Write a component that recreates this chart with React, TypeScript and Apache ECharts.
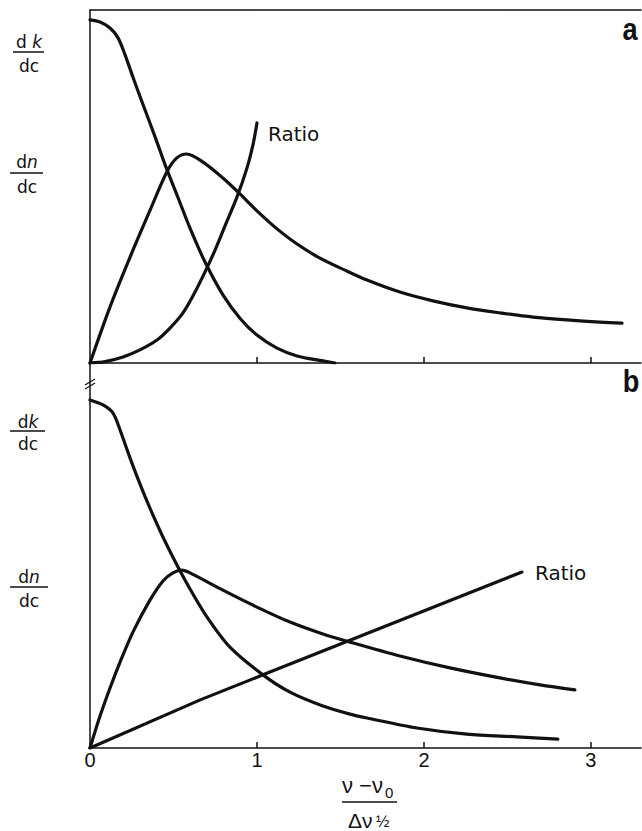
import React, { useEffect, useRef } from "react";
import * as echarts from "echarts";

// x = (ν - ν0)/Δν½ ; y in relative units (0..100 of each panel height)
const xTickValues = [1, 2, 3];
const xLabelValues = [0, 1, 2, 3];

// Panel a
const dkA: [number, number][] = [
  [0, 97.2], [0.06, 96.6], [0.12, 94.9], [0.168, 92.1], [0.21, 87.3], [0.257, 81.0],
  [0.305, 74.8], [0.359, 68.0], [0.407, 61.8], [0.455, 55.5], [0.521, 47.6], [0.599, 38.2],
  [0.689, 28.6], [0.796, 19.3], [0.898, 12.7], [1.0, 7.9], [1.12, 4.2], [1.24, 2.0],
  [1.395, 0.6], [1.467, 0],
];
const dnA: [number, number][] = [
  [0, 0], [0.12, 15.9], [0.24, 30.0], [0.36, 43.3], [0.46, 54.1], [0.52, 58.1],
  [0.58, 59.2], [0.677, 56.9], [0.796, 52.4], [0.898, 47.9], [1.0, 43.1], [1.12, 38.0],
  [1.24, 33.7], [1.377, 29.7], [1.527, 26.3], [1.659, 23.5], [1.856, 20.1], [2.054, 17.6],
  [2.257, 15.6], [2.455, 14.2], [2.653, 13.0], [2.856, 12.2], [3.054, 11.6], [3.186, 11.3],
];
const ratioA: [number, number][] = [
  [0, 0], [0.09, 0.4], [0.198, 1.7], [0.299, 3.7], [0.401, 6.5], [0.479, 9.9],
  [0.557, 14.2], [0.629, 20.1], [0.689, 25.8], [0.749, 32.0], [0.808, 38.8],
  [0.88, 47.0], [0.94, 55.2], [0.976, 61.8], [1.0, 68.0],
];

// Panel b
const dkB: [number, number][] = [
  [0, 90.4], [0.078, 89.1], [0.138, 87.0], [0.18, 82.6], [0.24, 75.3], [0.299, 68.6],
  [0.359, 62.3], [0.437, 54.8], [0.527, 47.0], [0.599, 41.3], [0.701, 34.0], [0.838, 26.2],
  [1.036, 19.0], [1.198, 14.5], [1.395, 10.9], [1.557, 8.8], [1.659, 7.8], [1.958, 5.2],
  [2.257, 3.6], [2.557, 2.9], [2.802, 2.3],
];
const dnB: [number, number][] = [
  [0, 0], [0.06, 8.3], [0.12, 15.6], [0.18, 22.3], [0.257, 30.1], [0.359, 38.4],
  [0.437, 43.4], [0.497, 45.5], [0.551, 46.2], [0.599, 45.5], [0.796, 41.0], [1.0, 36.6],
  [1.198, 32.7], [1.395, 29.6], [1.557, 27.5], [1.856, 23.9], [2.156, 20.8], [2.455, 18.2],
  [2.695, 16.4], [2.904, 15.1],
];
const ratioB: [number, number][] = [
  [0, 0], [0.66, 12.5], [1.036, 19.0], [2.587, 45.7],
];

const FONT = "'Liberation Sans', Arial, sans-serif";
const LFONT = "'DejaVu Sans', sans-serif";
const BLACK = "#111";

function fracLabel(cx: number, top: string, topY: number, lineY: number, x1: number, x2: number, botY: number) {
  return [
    {
      type: "text",
      x: cx,
      y: topY,
      style: {
        text: top,
        rich: {
          i: { fontStyle: "italic", fontSize: 17, fontFamily: LFONT, fill: BLACK },
        },
        fontSize: 17,
        fontFamily: LFONT,
        fill: BLACK,
        textAlign: "center",
        textVerticalAlign: "middle",
      },
    },
    {
      type: "line",
      shape: { x1, y1: lineY, x2, y2: lineY },
      style: { stroke: BLACK, lineWidth: 1.5 },
    },
    {
      type: "text",
      x: cx,
      y: botY,
      style: {
        text: "dc",
        fontSize: 17,
        fontFamily: LFONT,
        fill: BLACK,
        textAlign: "center",
        textVerticalAlign: "middle",
      },
    },
  ];
}

export default function App() {
  const ref = useRef<HTMLDivElement>(null);
  useEffect(() => {
    if (!ref.current) return;
    const chart = echarts.init(ref.current, undefined, { renderer: "svg" });
    const axisLineStyle = { color: BLACK, width: 1.5 };
    const lineSeries = (data: [number, number][], idx: number, smooth: number) => ({
      type: "line",
      xAxisIndex: idx === 0 ? 0 : 2,
      yAxisIndex: idx,
      data,
      showSymbol: false,
      smooth,
      lineStyle: { color: BLACK, width: 3.2, cap: "round", join: "round" },
      silent: true,
    });
    const option: any = {
      animation: false,
      backgroundColor: "#fff",
      grid: [
        { left: 90, top: 10, width: 551, height: 353 },
        { left: 90, top: 363, width: 551, height: 385 },
      ],
      xAxis: [
        {
          gridIndex: 0, type: "value", min: 0, max: 3.3, position: "bottom",
          axisLine: { show: true, onZero: false, lineStyle: axisLineStyle },
          axisTick: { show: true, inside: true, length: 6, customValues: xTickValues, lineStyle: axisLineStyle },
          axisLabel: { show: false },
          splitLine: { show: false },
        },
        {
          gridIndex: 0, type: "value", min: 0, max: 3.3, position: "top",
          axisLine: { show: true, onZero: false, lineStyle: axisLineStyle },
          axisTick: { show: false },
          axisLabel: { show: false },
          splitLine: { show: false },
        },
        {
          gridIndex: 1, type: "value", min: 0, max: 3.3, position: "bottom",
          axisLine: { show: true, onZero: false, lineStyle: axisLineStyle },
          axisTick: { show: true, inside: true, length: 6, customValues: xTickValues, lineStyle: axisLineStyle },
          axisLabel: {
            show: true, customValues: xLabelValues, fontSize: 20, fontFamily: FONT,
            color: BLACK, margin: 2,
          },
          splitLine: { show: false },
        },
      ],
      yAxis: [
        {
          gridIndex: 0, type: "value", min: 0, max: 100,
          axisLine: { show: true, onZero: false, lineStyle: axisLineStyle },
          axisTick: { show: false }, axisLabel: { show: false }, splitLine: { show: false },
        },
        {
          gridIndex: 1, type: "value", min: 0, max: 100,
          axisLine: { show: true, onZero: false, lineStyle: axisLineStyle },
          axisTick: { show: false }, axisLabel: { show: false }, splitLine: { show: false },
        },
      ],
      series: [
        lineSeries(dkA, 0, 0.3),
        lineSeries(dnA, 0, 0.3),
        lineSeries(ratioA, 0, 0.3),
        lineSeries(dkB, 1, 0.3),
        lineSeries(dnB, 1, 0.3),
        lineSeries(ratioB, 1, 0),
      ],
      graphic: [
        ...fracLabel(29, "d {i|k}", 42, 52, 13, 44, 66),
        ...fracLabel(27, "d{i|n}", 162, 173, 10, 43, 187),
        ...fracLabel(28, "d{i|k}", 422, 431, 10, 45, 444),
        ...fracLabel(29, "d{i|n}", 577, 587, 10, 48, 601),
        // panel letters
        {
          type: "text", x: 630, y: 29, scaleX: 0.85,
          style: { text: "a", fontSize: 32, fontWeight: "bold", fontFamily: FONT, fill: BLACK, textAlign: "center", textVerticalAlign: "middle" },
        },
        {
          type: "text", x: 631, y: 381, scaleX: 0.85,
          style: { text: "b", fontSize: 32, fontWeight: "bold", fontFamily: FONT, fill: BLACK, textAlign: "center", textVerticalAlign: "middle" },
        },
        // Ratio labels
        {
          type: "text", x: 268, y: 134,
          style: { text: "Ratio", fontSize: 20, fontFamily: LFONT, fill: BLACK, textAlign: "left", textVerticalAlign: "middle" },
        },
        {
          type: "text", x: 535, y: 573,
          style: { text: "Ratio", fontSize: 20, fontFamily: LFONT, fill: BLACK, textAlign: "left", textVerticalAlign: "middle" },
        },
        // axis break mark
        { type: "rect", shape: { x: 87, y: 381, width: 6, height: 5 }, style: { fill: "#fff" } },
        { type: "line", shape: { x1: 85, y1: 385, x2: 95, y2: 379 }, style: { stroke: BLACK, lineWidth: 1.3 } },
        { type: "line", shape: { x1: 85, y1: 389, x2: 95, y2: 383 }, style: { stroke: BLACK, lineWidth: 1.3 } },
        // x-axis title fraction
        {
          type: "text", x: 342, y: 785,
          style: { text: "ν −ν", fontSize: 22, fontFamily: FONT, fill: BLACK, textAlign: "left", textVerticalAlign: "middle" },
        },
        {
          type: "text", x: 385, y: 792,
          style: { text: "0", fontSize: 15, fontFamily: FONT, fill: BLACK, textAlign: "left", textVerticalAlign: "middle" },
        },
        { type: "line", shape: { x1: 342, y1: 802, x2: 397, y2: 802 }, style: { stroke: BLACK, lineWidth: 1.5 } },
        {
          type: "text", x: 348, y: 820,
          style: { text: "Δν", fontSize: 21, fontFamily: FONT, fill: BLACK, textAlign: "left", textVerticalAlign: "middle" },
        },
        {
          type: "text", x: 376, y: 821,
          style: { text: "½", fontSize: 16, fontFamily: FONT, fill: BLACK, textAlign: "left", textVerticalAlign: "middle" },
        },
      ],
    };
    chart.setOption(option);
    return () => chart.dispose();
  }, []);
  return (
    <div
      ref={ref}
      style={{ position: "fixed", left: 0, top: 0, width: 642, height: 831, background: "#fff" }}
    />
  );
}
